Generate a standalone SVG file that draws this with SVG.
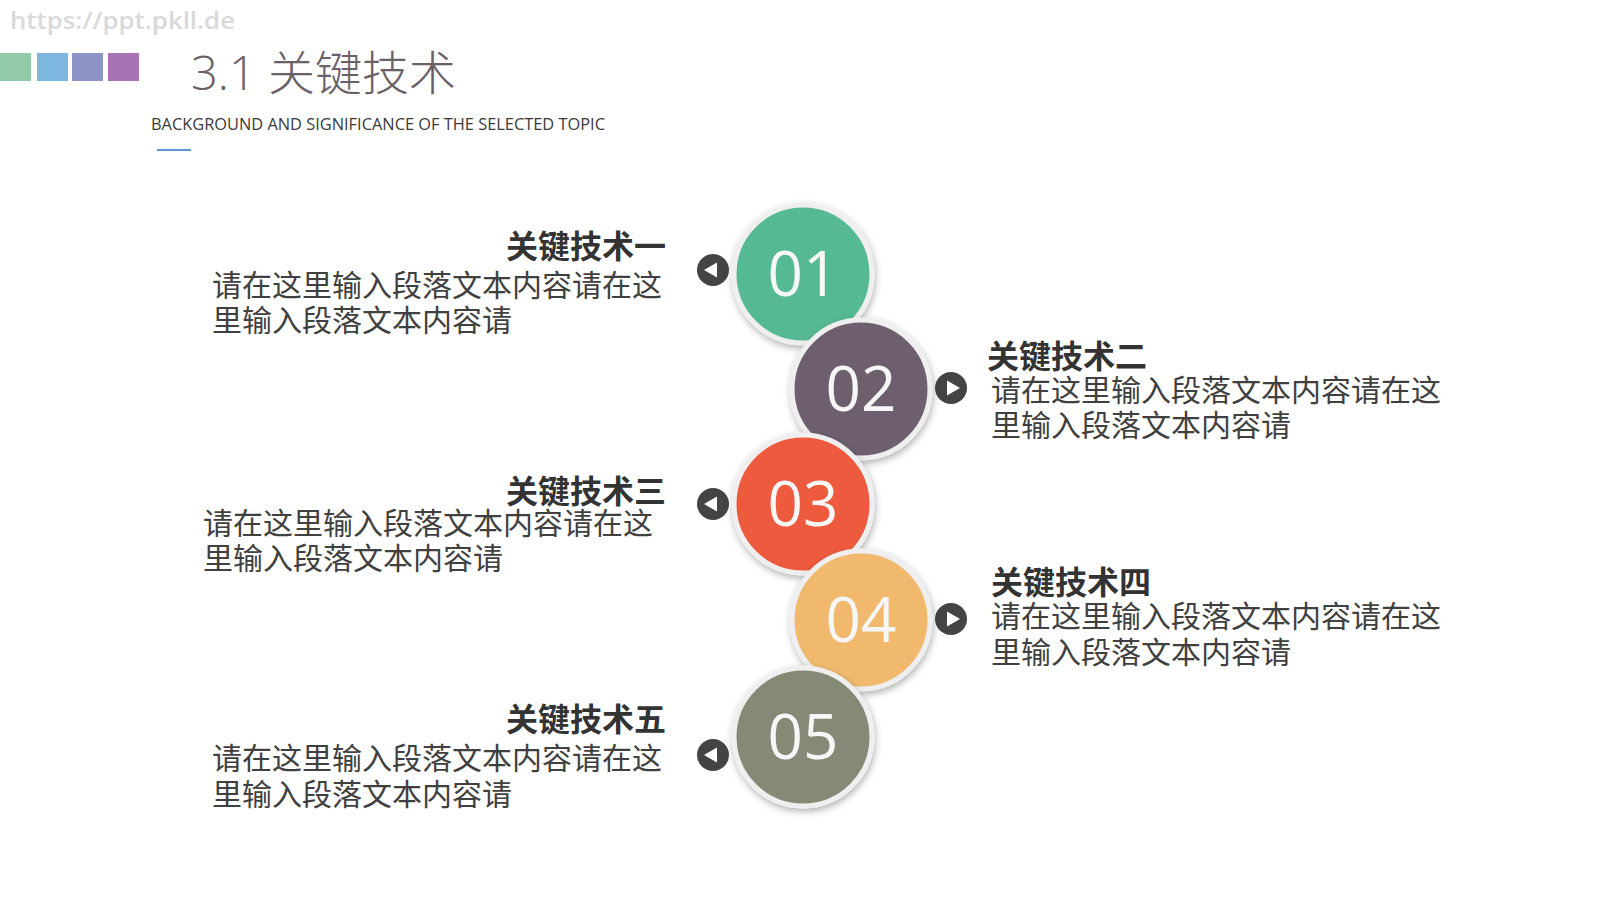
<svg xmlns="http://www.w3.org/2000/svg" width="1600" height="900" viewBox="0 0 1600 900">
  <defs>
    <style>
      .wm { font-family: "Open Sans", "Liberation Sans", sans-serif; font-size: 24px; font-weight: 600; fill: #d9d9d9; }
      .title { font-family: "Open Sans", "Noto Sans CJK SC", sans-serif; font-size: 47px; font-weight: 300; fill: #6b6068; }
      .sub { font-family: "Open Sans", "Liberation Sans", sans-serif; font-size: 16px; font-weight: 400; fill: #3a3a3a; }
      .head { font-family: "Noto Sans CJK SC", sans-serif; font-size: 32px; font-weight: 700; fill: #333333; }
      .body { font-family: "Noto Sans CJK SC", sans-serif; font-size: 30px; font-weight: 400; fill: #404040; }
      .num { font-family: "Open Sans", "Liberation Sans", sans-serif; font-size: 62px; font-weight: 400; fill: #f7f7f7; text-anchor: middle; }
      .ring { stroke: #efefef; stroke-width: 5; filter: url(#shadow); }
      .btn { fill: #444444; }
      .tri { fill: #ffffff; }
    </style>
    <filter id="shadow" x="-30%" y="-30%" width="160%" height="160%">
      <feDropShadow dx="1" dy="3" stdDeviation="3.5" flood-color="#000000" flood-opacity="0.3"/>
    </filter>
  </defs>
  <rect width="1600" height="900" fill="#ffffff"/>

  <g id="header">
    <text class="wm" x="10" y="29" textLength="225" lengthAdjust="spacingAndGlyphs">https://ppt.pkll.de</text>
    <rect x="0" y="53" width="31" height="28" fill="#93cba8"/>
    <rect x="37" y="53" width="31" height="28" fill="#7db6df"/>
    <rect x="72" y="53" width="31" height="28" fill="#8c93c6"/>
    <rect x="108" y="53" width="31" height="28" fill="#a872b4"/>
    <text class="title" x="191" y="90">3.1 关键技术</text>
    <text class="sub" x="151" y="130" textLength="454" lengthAdjust="spacingAndGlyphs">BACKGROUND AND SIGNIFICANCE OF THE SELECTED TOPIC</text>
    <line x1="157" y1="150" x2="191" y2="150" stroke="#5b9bd5" stroke-width="2"/>
  </g>

  <g id="connectors"></g>

  <g id="node1">
    <circle class="btn" cx="713" cy="270" r="16"/>
    <polygon class="tri" points="704,270 717,262.5 717,277.5"/>
    <circle class="ring" cx="803" cy="274" r="69" fill="#55b993"/>
    <text class="num" x="803" y="296">01</text>
    <text class="head" x="666" y="258" text-anchor="end">关键技术一</text>
    <text class="body" x="212" y="296">请在这里输入段落文本内容请在这</text>
    <text class="body" x="212" y="331">里输入段落文本内容请</text>
  </g>

  <g id="node2">
    <circle class="btn" cx="951" cy="388" r="16"/>
    <polygon class="tri" points="960,388 947,380.5 947,395.5"/>
    <circle class="ring" cx="861" cy="389" r="69" fill="#6e5f6e"/>
    <text class="num" x="861" y="411">02</text>
    <text class="head" x="987" y="368">关键技术二</text>
    <text class="body" x="991" y="401">请在这里输入段落文本内容请在这</text>
    <text class="body" x="991" y="436">里输入段落文本内容请</text>
  </g>

  <g id="node3">
    <circle class="btn" cx="713" cy="504" r="16"/>
    <polygon class="tri" points="704,504 717,496.5 717,511.5"/>
    <circle class="ring" cx="803" cy="504" r="69" fill="#ee5a3e"/>
    <text class="num" x="803" y="526">03</text>
    <text class="head" x="666" y="503" text-anchor="end">关键技术三</text>
    <text class="body" x="203" y="534">请在这里输入段落文本内容请在这</text>
    <text class="body" x="203" y="569">里输入段落文本内容请</text>
  </g>

  <g id="node4">
    <circle class="btn" cx="951" cy="619" r="16"/>
    <polygon class="tri" points="960,619 947,611.5 947,626.5"/>
    <circle class="ring" cx="861" cy="620" r="69" fill="#f0b96e"/>
    <text class="num" x="861" y="642">04</text>
    <text class="head" x="991" y="594">关键技术四</text>
    <text class="body" x="991" y="627">请在这里输入段落文本内容请在这</text>
    <text class="body" x="991" y="663">里输入段落文本内容请</text>
  </g>

  <g id="node5">
    <circle class="btn" cx="713" cy="755" r="16"/>
    <polygon class="tri" points="704,755 717,747.5 717,762.5"/>
    <circle class="ring" cx="803" cy="737" r="69" fill="#858a76"/>
    <text class="num" x="803" y="759">05</text>
    <text class="head" x="666" y="731" text-anchor="end">关键技术五</text>
    <text class="body" x="212" y="769">请在这里输入段落文本内容请在这</text>
    <text class="body" x="212" y="805">里输入段落文本内容请</text>
  </g>
</svg>
